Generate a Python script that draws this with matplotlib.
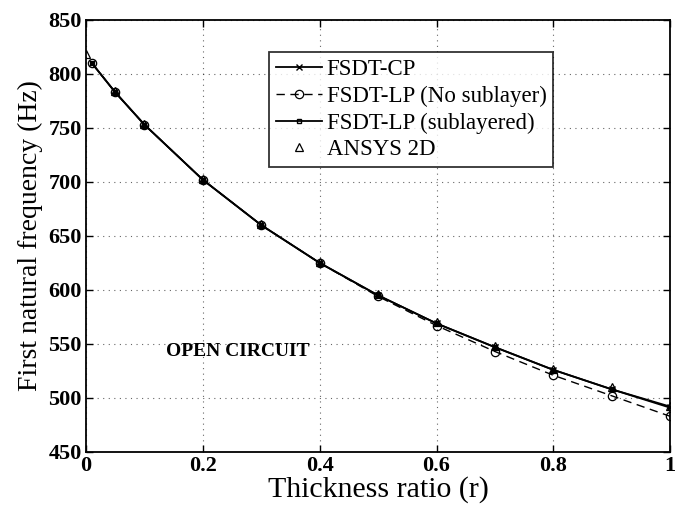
import numpy as np
import matplotlib
matplotlib.use("Agg")
import matplotlib.pyplot as plt

# thickness ratio samples
r = [0.01, 0.05, 0.1, 0.2, 0.3, 0.4, 0.5, 0.6, 0.7, 0.8, 0.9, 1.0]

# first natural frequency (Hz)
f_cp = [810, 783, 753, 702, 660, 625, 595, 569, 547, 526, 508, 492]
f_lp_nosub = [810, 783, 753, 702, 660, 625, 594, 567, 543, 521, 502, 483]
f_lp_sub = [810, 783, 753, 702, 660, 625, 595, 569, 547, 526, 508, 491]

r_ansys = [0.0, 0.05, 0.1, 0.2, 0.3, 0.4, 0.5, 0.6, 0.7, 0.8, 0.9, 1.0]
f_ansys = [818, 784, 754, 703, 661, 626, 596, 570, 548, 527, 510, 493]

plt.rcParams["font.family"] = ["Liberation Serif", "DejaVu Serif"]

fig = plt.figure(figsize=(6.77, 5.09), dpi=100)
ax = fig.add_axes([0.127, 0.112, 0.863, 0.849])

ax.plot(r, f_cp, "-", color="k", lw=1.3, marker="x", ms=4, mew=1.0, label="FSDT-CP")
ax.plot(r, f_lp_nosub, "--", color="k", lw=1.0, dashes=(6, 4), marker="o", ms=6,
        mfc="none", mew=0.9, label="FSDT-LP (No sublayer)")
ax.plot(r, f_lp_sub, "-", color="k", lw=1.3, marker="s", ms=3.5, mfc="none", mew=1.0,
        label="FSDT-LP (sublayered)")
ax.plot(r_ansys, f_ansys, ls="none", color="k", marker="^", ms=6, mfc="none", mew=0.9,
        label="ANSYS 2D")

ax.set_xlim(0, 1)
ax.set_ylim(450, 850)
ax.set_xticks([0, 0.2, 0.4, 0.6, 0.8, 1.0])
ax.set_xticklabels(["0", "0.2", "0.4", "0.6", "0.8", "1"])
ax.set_yticks(np.arange(450, 851, 50))
ax.tick_params(direction="in", length=5, width=1, labelsize=16, top=True, right=True, pad=3)
for lbl in ax.get_xticklabels() + ax.get_yticklabels():
    lbl.set_fontweight("bold")
for sp in ax.spines.values():
    sp.set_linewidth(1.3)

ax.grid(True, ls=(0, (1, 4)), color="k", lw=0.8, alpha=0.6)

ax.set_xlabel("Thickness ratio (r)", fontsize=21.5, labelpad=0)
ax.set_ylabel("First natural frequency (Hz)", fontsize=20, labelpad=4)

ax.text(0.26, 543, "OPEN CIRCUIT", fontsize=14, fontweight="bold", ha="center", va="center")

leg = ax.legend(loc="upper left", bbox_to_anchor=(0.314, 0.926), fontsize=16.5,
                frameon=True, fancybox=False, edgecolor="k", handlelength=2.0,
                handletextpad=0.2, borderpad=0.3, labelspacing=0.25, borderaxespad=0)
leg.get_frame().set_linewidth(1.3)

fig.savefig("out.png", dpi=100)
